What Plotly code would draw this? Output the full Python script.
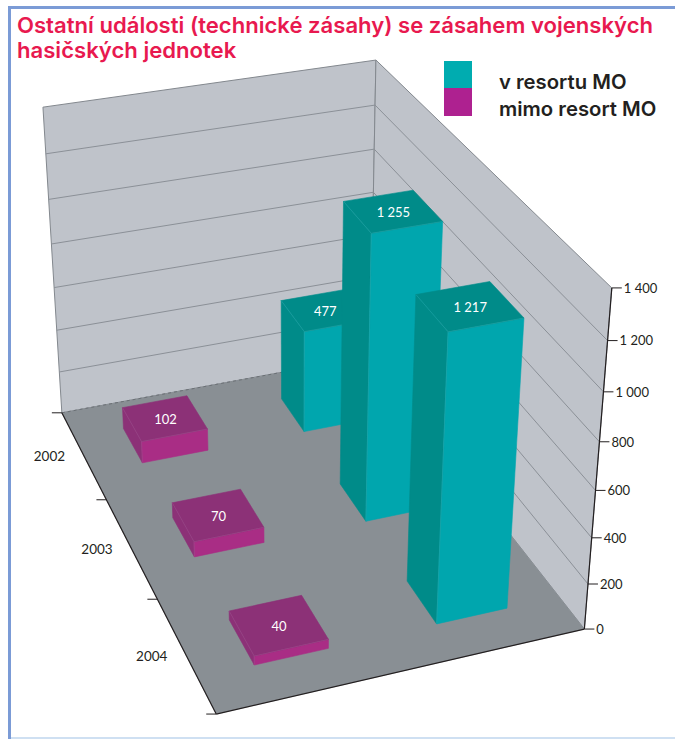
import numpy as np
import plotly.graph_objects as go

# ---- data ----
YEARS = ["2002", "2003", "2004"]
V_RESORTU = [477, 1255, 1217]
MIMO_RESORT = [102, 70, 40]
Z_TICKS = [0, 200, 400, 600, 800, 1000, 1200, 1400]
Z_MAX = 1400

# ---- 3D axis calibration: (year pos, series pos, value) -> canvas px ----
CALIB = [(0,0,0,62,413),(3,0,0,216,714),(3,2,0,584,629),(0,2,0,370,356),
         (0,0,1400,43,107),(0,2,1400,376,60),(3,2,1400,611,288),
         (3,2,200,588,584),(3,2,400,592,537),(3,2,600,596,491),(3,2,800,600,442)]

def fit_camera(pts):
    rows = []
    for X, Y, Z, u, v in pts:
        h = [X, Y, Z / Z_MAX, 1.0]
        rows.append(h + [0, 0, 0, 0] + [-u * a for a in h])
        rows.append([0, 0, 0, 0] + h + [-v * a for a in h])
    A = np.array(rows, float)
    scale = np.array([1, 1, 1, 1, 1, 1, 1, 1, 600, 600, 600, 600.0])
    _, _, vt = np.linalg.svd(A / scale)
    return (vt[-1] / scale).reshape(3, 4)

CAM = fit_camera(CALIB)

def proj(x, y, z):
    w = CAM @ np.array([x, y, z / Z_MAX, 1.0])
    return float(w[0] / w[2]), float(w[1] / w[2])

def path(*corners):
    p = [proj(*c) for c in corners]
    return [a for a, _ in p], [b for _, b in p]

fig = go.Figure()

def poly(corners, fill, line=None, lw=0.6):
    xs, ys = path(*corners)
    fig.add_trace(go.Scatter(x=xs + xs[:1], y=ys + ys[:1], mode="lines", fill="toself",
                             fillcolor=fill, line=dict(color=line or fill, width=lw),
                             hoverinfo="skip", showlegend=False))

def seg(a, b, color, lw=1, dash=None):
    xs, ys = path(a, b)
    fig.add_trace(go.Scatter(x=xs, y=ys, mode="lines", line=dict(color=color, width=lw, dash=dash),
                             hoverinfo="skip", showlegend=False))

WALL, FLOOR, GRID = "#bfc3ca", "#898f94", "#8b9097"
NY = len(YEARS)
# walls and floor
poly([(0,0,0),(0,2,0),(0,2,Z_MAX),(0,0,Z_MAX)], WALL, "#83888e", 1)
poly([(0,2,0),(NY,2,0),(NY,2,Z_MAX),(0,2,Z_MAX)], WALL, "#83888e", 1)
poly([(0,0,0),(NY,0,0),(NY,2,0),(0,2,0)], FLOOR, FLOOR, 0.5)
for z in Z_TICKS[1:-1]:
    seg((0,0,z), (0,2,z), GRID)
    seg((0,2,z), (NY,2,z), GRID)
seg((0,0,0), (0,2,0), "#6b7075", 1, "dot")
# axis lines
AX = "#231f20"
seg((0,0,0), (NY,0,0), AX, 1.2)
seg((NY,0,0), (NY,2,0), AX, 1.2)
seg((NY,2,0), (NY,2,Z_MAX), AX, 1.2)

def bar(i, s, v, top_c, front_c, edge):
    x0, x1, y0, y1 = i + .3, i + .7, s + .3, s + .7
    poly([(x0,y0,0),(x1,y0,0),(x1,y0,v),(x0,y0,v)], top_c)       # left side
    poly([(x1,y0,0),(x1,y1,0),(x1,y1,v),(x1,y0,v)], front_c)     # front side
    poly([(x0,y0,v),(x1,y0,v),(x1,y1,v),(x0,y1,v)], top_c)       # top
    seg((x1,y0,0), (x1,y0,v), edge, 0.6)
    seg((x1,y0,v), (x1,y1,v), edge, 0.6)
    seg((x0,y0,v), (x1,y0,v), edge, 0.6)

for i, v in enumerate(MIMO_RESORT):
    bar(i, 0, v, "#8c3177", "#a92d85", "#9c4a8c")
for i, v in enumerate(V_RESORTU):
    bar(i, 1, v, "#008b89", "#00a6ae", "#20a5a8")

# bar value labels
def fmt(v):
    return f"{v:,}".replace(",", " ")
LBL = [proj(i + .5, 0.5, v) for i, v in enumerate(MIMO_RESORT)] + [proj(i + .5, 1.5, v) for i, v in enumerate(V_RESORTU)]
fig.add_trace(go.Scatter(x=[p[0] + 0.8 for p in LBL], y=[p[1] + 2.5 for p in LBL], mode="text",
                         text=[fmt(v) for v in MIMO_RESORT + V_RESORTU],
                         textfont=dict(family="Lato", size=13, color="white"),
                         hoverinfo="skip", showlegend=False))

# value axis ticks
TK = [proj(NY, 2, z) for z in Z_TICKS]
for (px, py), z in zip(TK, Z_TICKS):
    fig.add_trace(go.Scatter(x=[px, px + 10], y=[py, py], mode="lines", line=dict(color=AX, width=1),
                             hoverinfo="skip", showlegend=False))
fig.add_trace(go.Scatter(x=[p[0] + 12 for p in TK], y=[p[1] + 1.5 for p in TK], mode="text",
                         text=[fmt(z) for z in Z_TICKS], textposition="middle right",
                         textfont=dict(family="Lato", size=13, color=AX),
                         hoverinfo="skip", showlegend=False))
# category ticks
for i in range(NY + 1):
    px, py = proj(i, 0, 0)
    fig.add_trace(go.Scatter(x=[px - 10, px], y=[py, py], mode="lines", line=dict(color=AX, width=1),
                             hoverinfo="skip", showlegend=False))
YL = [proj(i + .5, 0, 0) for i in range(NY)]
fig.add_trace(go.Scatter(x=[p[0] - 34 for p in YL], y=[p[1] + 3 for p in YL], mode="text", text=YEARS,
                         textfont=dict(family="Lato", size=13.5, color=AX),
                         hoverinfo="skip", showlegend=False))

TITLE = ["Ostatní události (technické zásahy) se zásahem vojenských", "hasičských jednotek"]
ann = [dict(x=14.5, y=24.5 + 25 * k, text=t, xref="x", yref="y", xanchor="left", yanchor="middle", showarrow=False,
            font=dict(family="Inter", size=22.1, color="#e8194f", weight=600)) for k, t in enumerate(TITLE)]
for name, yy in (("v resortu MO", 81), ("mimo resort MO", 108)):
    ann.append(dict(x=497, y=yy, text=name, xref="x", yref="y", xanchor="left", yanchor="middle", showarrow=False,
                    font=dict(family="Inter", size=20.3, color="#231f20", weight=600)))

shapes = [
    dict(type="rect", xref="x", yref="y", x0=444, x1=472, y0=61, y1=88, fillcolor="#00acb0", line_width=0),
    dict(type="rect", xref="x", yref="y", x0=444, x1=472, y0=88, y1=116, fillcolor="#ae2190", line_width=0),
    dict(type="line", xref="x", yref="y", x0=9.5, x1=9.5, y0=7, y1=739, line=dict(color="#7b9bd6", width=3)),
    dict(type="line", xref="x", yref="y", x0=8, x1=675, y0=7.5, y1=7.5, line=dict(color="#7b9bd6", width=3)),
    dict(type="line", xref="x", yref="y", x0=11, x1=675, y0=738, y1=738, line=dict(color="#cfe0f2", width=2)),
]
fig.update_layout(width=675, height=739, margin=dict(l=0, r=0, t=0, b=0), paper_bgcolor="white", plot_bgcolor="white",
                  xaxis=dict(range=[0, 675], visible=False, fixedrange=True),
                  yaxis=dict(range=[739, 0], visible=False, fixedrange=True),
                  annotations=ann, shapes=shapes, showlegend=False)
fig.write_html("out.html", config=dict(displayModeBar=False),
               post_script="document.body.style.margin='0';document.body.style.overflow='hidden';")
